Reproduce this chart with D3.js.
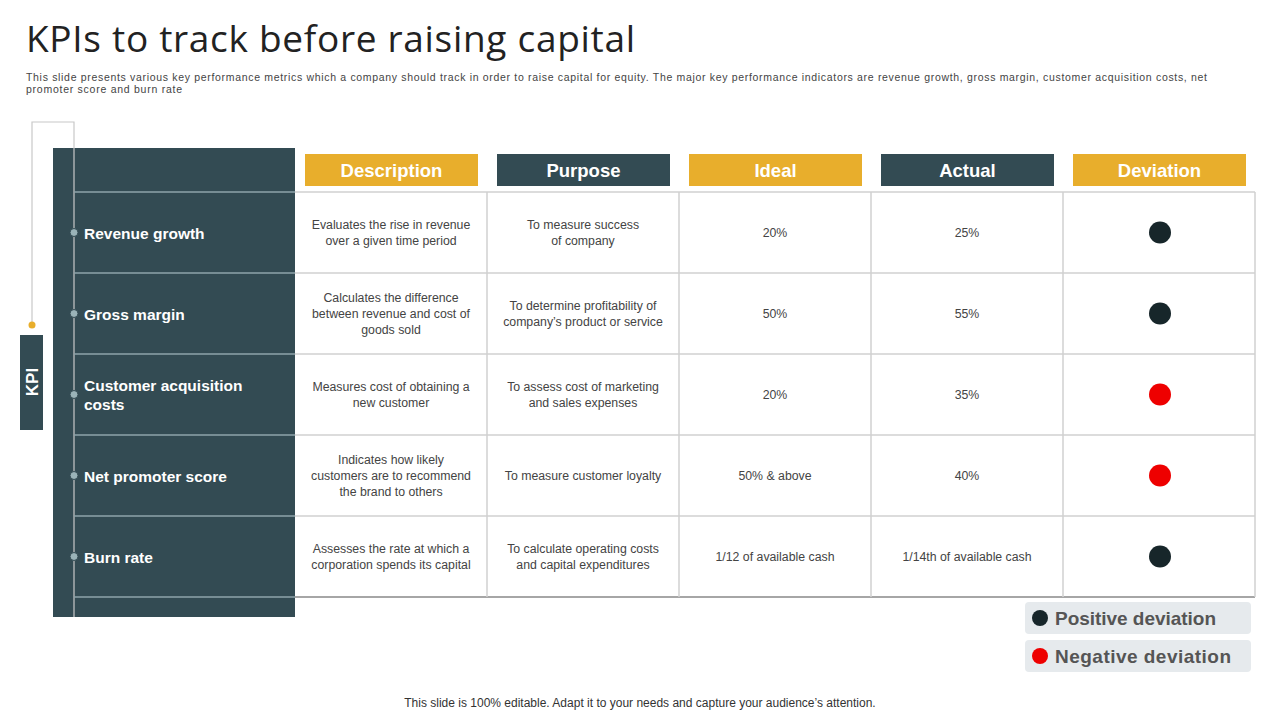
<!DOCTYPE html>
<html><head><meta charset="utf-8">
<script src="https://cdn.jsdelivr.net/npm/d3@7"></script>
<style>body{margin:0;background:#fff}svg{display:block}</style>
</head><body><svg width="1280" height="720"></svg>
<script>
const kpis = [["Revenue growth"], ["Gross margin"], ["Customer acquisition", "costs"], ["Net promoter score"], ["Burn rate"]];
const headers = ["Description", "Purpose", "Ideal", "Actual", "Deviation"];
const descriptions = [
  ["Evaluates  the rise in revenue", "over  a given  time period"],
  ["Calculates the difference", "between  revenue  and cost of", "goods  sold"],
  ["Measures cost of obtaining  a", "new customer"],
  ["Indicates how likely", "customers are to recommend", "the brand to others"],
  ["Assesses the rate at which a", "corporation  spends its capital"]];
const purposes = [
  ["To measure success", "of company"],
  ["To determine  profitability of", "company’s product or service"],
  ["To assess cost of marketing", "and sales expenses"],
  ["To measure customer loyalty"],
  ["To calculate operating costs", "and capital expenditures"]];
const ideal = ["20%", "50%", "20%", "50% & above", "1/12 of available  cash"];
const actual = ["25%", "55%", "35%", "40%", "1/14th of available  cash"];
const deviation = ["positive", "positive", "negative", "negative", "positive"];

const dark = "#334b53", gold = "#e8ae2c", font = "Arial, 'Liberation Sans', sans-serif";
const svg = d3.select("svg");

svg.append("text").attr("x", 26).attr("y", 52).attr("font-family", "'Open Sans', sans-serif")
  .attr("font-size", 37).attr("fill", "#222").attr("textLength", 609).text("KPIs to track before raising capital");
const sub = ["This slide presents various key performance metrics which a company should track in order to raise capital for equity.  The major key performance indicators are revenue growth, gross margin, customer acquisition costs, net",
  "promoter score and burn rate"];
sub.forEach((s, i) => {
  const t = svg.append("text").attr("x", 26).attr("y", 81 + i * 12).attr("font-family", font)
    .attr("font-size", 10.5).attr("fill", "#444").text(s);
  if (i === 0) t.attr("textLength", 1181);
  else t.attr("textLength", 156);
});

// scales
const rows = d3.range(kpis.length);
const y = d3.scaleBand().domain(rows).range([192, 597]);
const x = d3.scaleBand().domain(headers).range([295, 1255]);

// left panel
svg.append("rect").attr("x", 53).attr("y", 148).attr("width", 242).attr("height", 469).attr("fill", dark);
svg.append("path").attr("d", "M32,323 V122 H74 V617").attr("fill", "none").attr("stroke", "#c8c8c8").attr("stroke-width", 1.2);
svg.append("circle").attr("cx", 32).attr("cy", 325).attr("r", 3.5).attr("fill", gold);
svg.append("rect").attr("x", 20).attr("y", 335).attr("width", 23).attr("height", 95).attr("fill", dark);
svg.append("text").attr("transform", "translate(38,382) rotate(-90)").attr("text-anchor", "middle")
  .attr("font-family", font).attr("font-weight", "bold").attr("font-size", 17).attr("fill", "#fff").text("KPI");

// grid lines
const lines = rows.map(r => y(r)).concat([y.range()[1]]);
lines.forEach((v, i) => {
  svg.append("line").attr("x1", 74).attr("x2", 295).attr("y1", v).attr("y2", v).attr("stroke", "#8fa3aa").attr("stroke-width", 1.5);
  svg.append("line").attr("x1", 295).attr("x2", 1255).attr("y1", v).attr("y2", v)
    .attr("stroke", i === lines.length - 1 ? "#888" : "#d0d0d0").attr("stroke-width", 1.5);
});
headers.forEach((h, i) => {
  svg.append("line").attr("x1", x(h) + x.bandwidth()).attr("x2", x(h) + x.bandwidth())
    .attr("y1", 192).attr("y2", 597).attr("stroke", "#d0d0d0").attr("stroke-width", 1.5);
  svg.append("rect").attr("x", x(h) + 10).attr("y", 154).attr("width", x.bandwidth() - 19).attr("height", 32)
    .attr("fill", i % 2 ? dark : gold);
  svg.append("text").attr("x", x(h) + x.bandwidth() / 2 + 0.5).attr("y", 177).attr("text-anchor", "middle")
    .attr("font-family", font).attr("font-weight", "bold").attr("font-size", 18.5).attr("fill", "#fff").text(h);
});

function cell(lines, cx, cy) {
  const t = svg.append("text").attr("text-anchor", "middle").attr("font-family", font)
    .attr("font-size", 12.3).attr("fill", "#444");
  lines.forEach((l, i) => t.append("tspan").attr("x", cx)
    .attr("y", cy + 4 + (i - (lines.length - 1) / 2) * 16).text(l));
}

rows.forEach(r => {
  const cy = y(r) + y.bandwidth() / 2;
  svg.append("circle").attr("cx", 74).attr("cy", cy).attr("r", 4).attr("fill", "#9ab3b8").attr("stroke", dark);
  const t = svg.append("text").attr("font-family", font).attr("font-weight", "bold").attr("font-size", 15.5).attr("fill", "#fff");
  kpis[r].forEach((l, i) => t.append("tspan").attr("x", 84).attr("y", cy + 6 + (i - (kpis[r].length - 1) / 2) * 19).text(l));
  cell(descriptions[r], x("Description") + x.bandwidth() / 2, cy);
  cell(purposes[r], x("Purpose") + x.bandwidth() / 2, cy);
  cell([ideal[r]], x("Ideal") + x.bandwidth() / 2, cy);
  cell([actual[r]], x("Actual") + x.bandwidth() / 2, cy);
  svg.append("circle").attr("cx", x("Deviation") + x.bandwidth() / 2 + 1).attr("cy", cy).attr("r", 11)
    .attr("fill", deviation[r] === "positive" ? "#17262a" : "#ee0000");
});

// legend
[["Positive deviation", "#17262a", 161], ["Negative deviation", "#ee0000", 176]].forEach((d, i) => {
  const ly = 602 + i * 38;
  svg.append("rect").attr("x", 1025).attr("y", ly).attr("width", 226).attr("height", 32).attr("rx", 4).attr("fill", "#e6eaed");
  svg.append("circle").attr("cx", 1040).attr("cy", ly + 16).attr("r", 8).attr("fill", d[1]);
  svg.append("text").attr("x", 1055).attr("y", ly + 23).attr("font-family", font).attr("font-weight", "bold")
    .attr("font-size", 19).attr("fill", "#555").attr("textLength", d[2]).text(d[0]);
});

svg.append("text").attr("x", 640).attr("y", 707).attr("text-anchor", "middle").attr("font-family", font)
  .attr("font-size", 12).attr("fill", "#333").text("This slide is 100% editable. Adapt it to your needs and capture your audience’s attention.");
</script></body></html>
